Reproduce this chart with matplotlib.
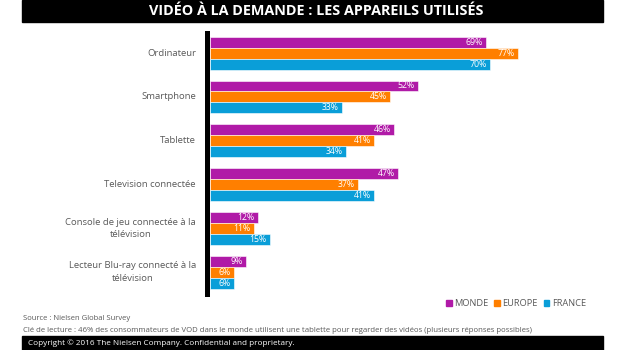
import matplotlib
matplotlib.use("Agg")
import matplotlib.pyplot as plt
from matplotlib.patches import Patch, Rectangle

plt.rcParams['font.family'] = ['Open Sans', 'DejaVu Sans']

categories = ["Ordinateur", "Smartphone", "Tablette", "Television connectée",
              "Console de jeu connectée à la\ntélévision",
              "Lecteur Blu-ray connecté à la\ntélévision"]
series_names = ["MONDE", "EUROPE", "FRANCE"]
monde = [69, 52, 46, 47, 12, 9]
europe = [77, 45, 41, 37, 11, 6]
france = [70, 33, 34, 41, 15, 6]
colors = ["#B01AA7", "#FF7F00", "#0A9ED8"]

title = "VIDÉO À LA DEMANDE : LES APPAREILS UTILISÉS"
source = "Source : Nielsen Global Survey"
note = ("Clé de lecture : 46% des consommateurs de VOD dans le monde utilisent une tablette "
        "pour regarder des vidéos (plusieurs réponses possibles)")
copyright_txt = "Copyright © 2016 The Nielsen Company. Confidential and proprietary."

W, H = 620, 350
fig = plt.figure(figsize=(W / 100, H / 100), dpi=100)

def px(x0, y0, x1, y1):
    # pixel box (top-left origin) -> figure fraction rect
    return [x0 / W, 1 - y1 / H, (x1 - x0) / W, (y1 - y0) / H]

# title bar
fig.patches.append(Rectangle((22 / W, 1 - 22 / H), (603 - 22) / W, 22 / H,
                             transform=fig.transFigure, color="black", zorder=0))
fig.text(316 / W, 1 - 11 / H, title, color="white", fontsize=10.4, fontweight="bold",
         ha="center", va="center")

# copyright bar
fig.patches.append(Rectangle((22 / W, 0), (603 - 22) / W, 14 / H,
                             transform=fig.transFigure, color="black", zorder=0))
fig.text(28 / W, 1 - 343 / H, copyright_txt, color="white", fontsize=5.9,
         ha="left", va="center")

fig.text(23 / W, 1 - 318 / H, source, color="#595959", fontsize=5.5, ha="left", va="center")
fig.text(23 / W, 1 - 330 / H, note, color="#595959", fontsize=5.55, ha="left", va="center")

ax = fig.add_axes(px(210, 33, 610, 294))
bh = 0.25
for i, (vals, c) in enumerate(zip([monde, europe, france], colors)):
    ys = [k + (i - 1) * bh for k in range(len(categories))]
    ax.barh(ys, vals, height=bh, color=c, edgecolor="white", linewidth=0.4)
    for y, v in zip(ys, vals):
        ax.text(v - 0.8, y, f"{v}%", color="white", fontsize=6.3, ha="right", va="center")

ax.set_xlim(0, 100)
ax.set_ylim(5.5, -0.46)
for s in ["top", "right", "bottom"]:
    ax.spines[s].set_visible(False)
ax.spines["left"].set_linewidth(3.6)
ax.spines["left"].set_color("black")
ax.spines["left"].set_position(("outward", 2))
ax.set_xticks([])
ax.set_yticks([])
for k, lab in enumerate(categories):
    ax.text(-0.035, k, lab, transform=ax.get_yaxis_transform(), color="#595959",
            fontsize=6.8, ha="right", va="center", multialignment="center",
            linespacing=1.5)

handles = [Patch(color=c, label=n) for c, n in zip(colors, series_names)]
fig.legend(handles=handles, loc="center right", bbox_to_anchor=(586 / W, 1 - 304 / H),
           ncol=3, frameon=False, fontsize=6.7, handlelength=0.6, handleheight=0.6,
           handletextpad=0.3, columnspacing=0.6, labelcolor="#595959",
           borderpad=0, borderaxespad=0)

fig.savefig("out.png", dpi=100)
